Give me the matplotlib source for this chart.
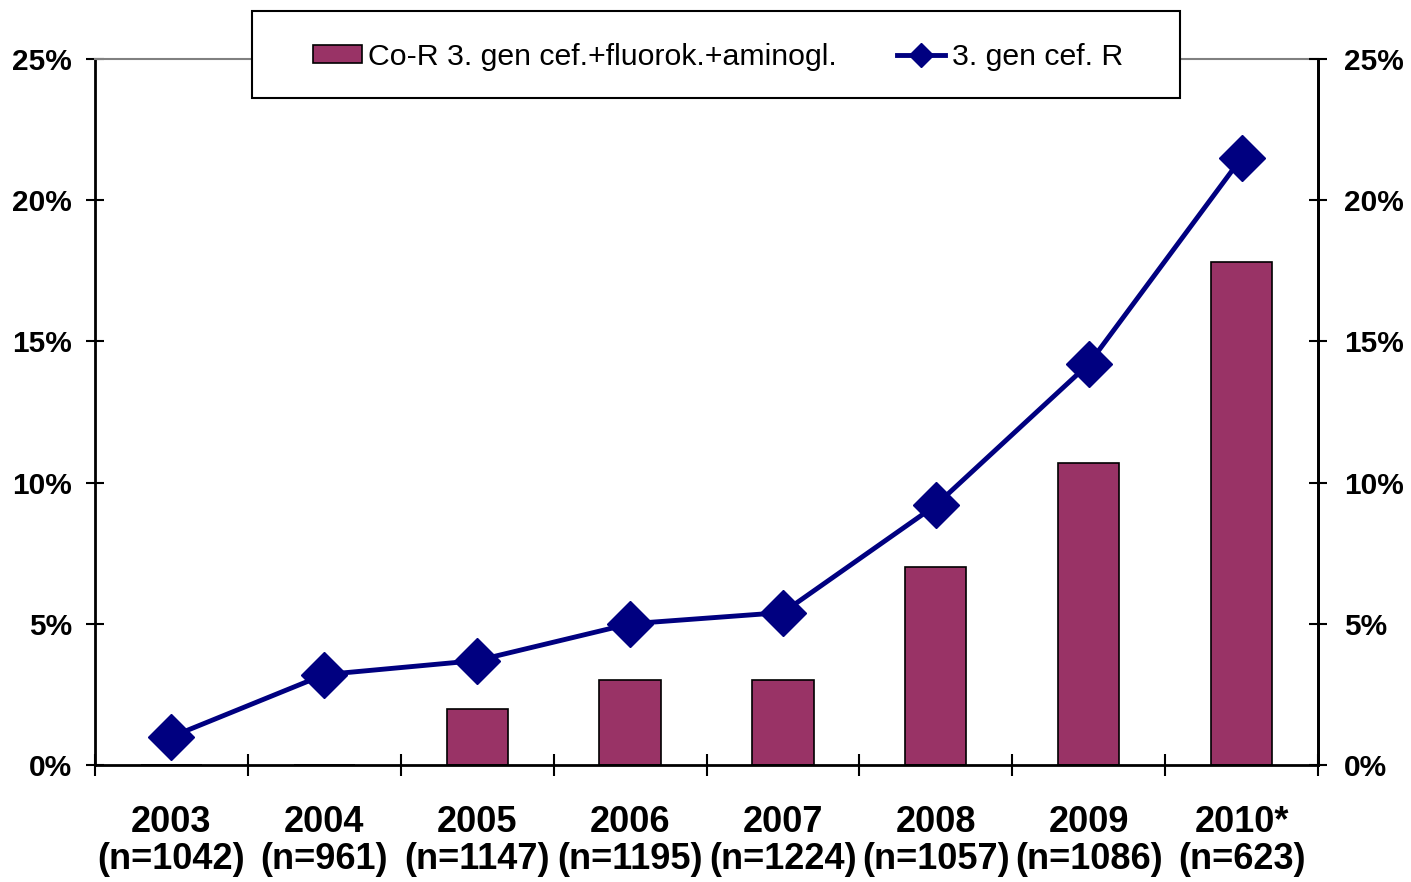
import matplotlib.pyplot as plt
import numpy as np
from matplotlib.patches import Rectangle
from matplotlib.ticker import FixedLocator, PercentFormatter

plt.rcParams["font.family"] = ["Liberation Sans", "DejaVu Sans"]

# data (percent)
years = ["2003\n(n=1042)", "2004\n(n=961)", "2005\n(n=1147)", "2006\n(n=1195)",
         "2007\n(n=1224)", "2008\n(n=1057)", "2009\n(n=1086)", "2010*\n(n=623)"]
co_resist = [0, 0, 2.0, 3.0, 3.0, 7.0, 10.7, 17.8]
cef_resist = [1.0, 3.2, 3.7, 5.0, 5.4, 9.2, 14.2, 21.5]

x = np.arange(len(years))

fig = plt.figure(figsize=(14.11, 8.82), dpi=100)
ax = fig.add_axes([95 / 1411, 1 - 765 / 882, (1318 - 95) / 1411, (765 - 59) / 882])

bars = ax.bar(x, co_resist, width=0.4, color="#993366", edgecolor="black",
              linewidth=1.2, label="Co-R 3. gen cef.+fluorok.+aminogl.", zorder=2)
line, = ax.plot(x, cef_resist, color="#000080", linewidth=3.5, marker="D",
                markersize=23, label="3. gen cef. R", zorder=3)

ax.set_xlim(-0.5, 7.5)
ax.set_ylim(0, 25)
ax.set_yticks([0, 5, 10, 15, 20, 25])
ax.yaxis.set_major_formatter(PercentFormatter(decimals=0))
ax.set_xticks(x)
ax.set_xticklabels(years, fontsize=26, fontweight="bold", linespacing=1.08)
ax.xaxis.set_minor_locator(FixedLocator(np.arange(-0.5, 8, 1)))
ax.tick_params(axis="x", which="major", length=0, pad=29)
ax.tick_params(axis="x", which="minor", direction="inout", length=16, width=1.5)
ax.tick_params(axis="y", direction="inout", length=13, width=1.5, labelsize=21.5, pad=10)
for lbl in ax.get_yticklabels():
    lbl.set_fontweight("bold")

for s in ["left", "right", "bottom"]:
    ax.spines[s].set_linewidth(2)
ax.spines["top"].set_color("#808080")
ax.spines["top"].set_linewidth(1.5)

ax2 = ax.twinx()
ax2.set_ylim(0, 25)
ax2.set_yticks([0, 5, 10, 15, 20, 25])
ax2.yaxis.set_major_formatter(PercentFormatter(decimals=0))
ax2.tick_params(axis="y", direction="inout", length=13, width=1.5, labelsize=21.5, pad=12)
for lbl in ax2.get_yticklabels():
    lbl.set_fontweight("bold")
ax2.spines["right"].set_linewidth(2)
ax2.spines["top"].set_visible(False)
ax2.spines["left"].set_visible(False)
ax2.spines["bottom"].set_visible(False)

# legend box
box = Rectangle((252 / 1411, 1 - 98 / 882), (1180 - 252) / 1411, 87 / 882,
                transform=fig.transFigure, facecolor="white", edgecolor="black",
                linewidth=1.5, zorder=4)
fig.patches.append(box)
leg = fig.legend(handles=[bars, line], loc="center", ncol=2, fontsize=21.8,
                 bbox_to_anchor=(718 / 1411, 1 - 57 / 882), frameon=False,
                 markerscale=0.55, handlelength=1.6, handleheight=0.55,
                 handletextpad=0.2, columnspacing=2.0)
leg.set_zorder(5)

fig.savefig("out.png", dpi=100)
